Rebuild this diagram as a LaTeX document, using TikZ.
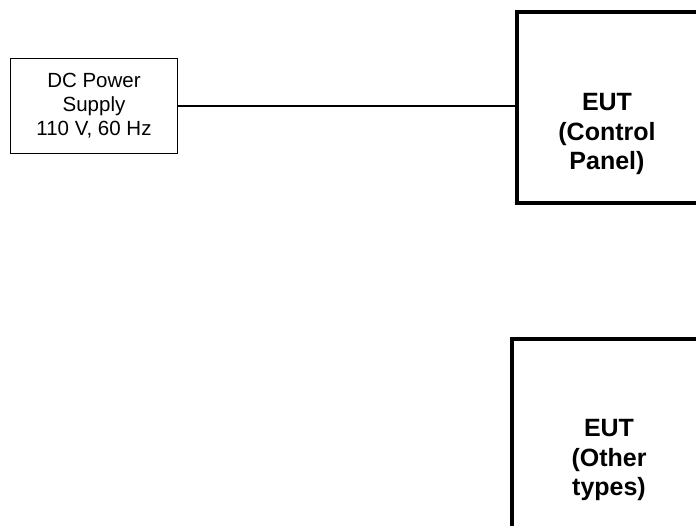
\documentclass[tikz,border=0pt]{standalone}
\usepackage{fontspec}
\setmainfont{Liberation Sans}
\begin{document}
\begin{tikzpicture}[x=1pt,y=-1pt,
  psbox/.style={draw, line width=1.4pt, minimum width=167pt, minimum height=95pt, inner sep=0pt,
    font=\fontsize{20.5}{24}\selectfont, align=center},
  eutbox/.style={draw, line width=4pt, inner sep=0pt, minimum width=192pt},
  euttext/.style={font=\fontsize{25}{29.5}\selectfont\bfseries, align=center},
  wire/.style={line width=1.3pt}]
\useasboundingbox (0,0) rectangle (696,526);
\clip (0,0) rectangle (696,526);
% boxes
\node[psbox] (ps) at (94,106) {DC Power\\Supply\\110 V, 60 Hz};
\node[eutbox, minimum height=190.7pt, anchor=north west] (eut1) at (514.5,10.3) {};
\node[eutbox, minimum height=196pt, anchor=north west] (eut2) at (510.3,336.7) {};
% labels
\node[euttext] (eut1label) at (607,134) {EUT\\(Control\\Panel)};
\node[euttext] (eut2label) at (609,460) {EUT\\(Other\\types)};
% connector
\draw[wire] (ps.east) -- (ps.east -| eut1.west);
\end{tikzpicture}
\end{document}
